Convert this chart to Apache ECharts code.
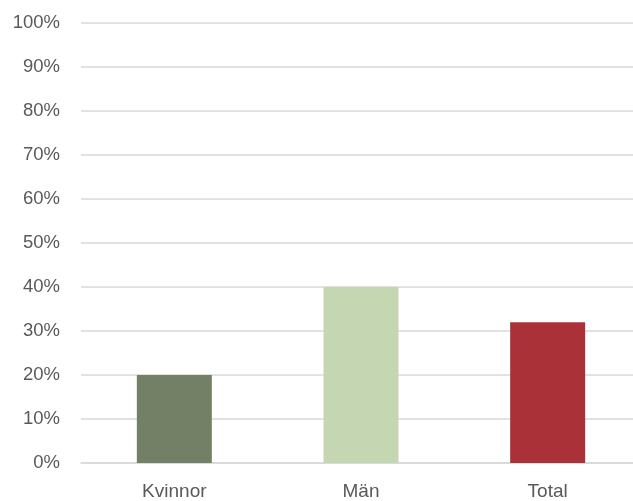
<!DOCTYPE html>
<html>
<head>
<meta charset="utf-8">
<script src="https://cdn.jsdelivr.net/npm/echarts@6/dist/echarts.min.js"></script>
<style>
  html, body { margin: 0; padding: 0; background: #fff; overflow: hidden; }
  /* the plot area runs slightly past the right edge of the window */
  #chart { width: 641px; height: 501px; }
</style>
</head>
<body>
<div id="chart"></div>
<script>
// Share per group, in percent
const categories = ['Kvinnor', 'Män', 'Total'];
const values = [20, 40, 32];
const barColors = ['#748066', '#c5d6b2', '#ab3139'];

const chart = echarts.init(document.getElementById('chart'), null, { renderer: 'canvas' });
const font = "'Liberation Sans', Arial, sans-serif";

chart.setOption({
  animation: false,
  backgroundColor: '#ffffff',
  grid: { left: 81, right: 0, top: 23, height: 440, containLabel: false },
  xAxis: {
    type: 'category',
    data: categories,
    axisLine: { lineStyle: { color: '#d9d9d9', width: 1.5 } },
    axisTick: { show: false },
    axisLabel: { color: '#595959', fontSize: 19, fontFamily: font, margin: 19 }
  },
  yAxis: {
    type: 'value',
    min: 0,
    max: 100,
    interval: 10,
    axisLine: { show: false },
    axisTick: { show: false },
    splitLine: { lineStyle: { color: '#d9d9d9', width: 1.5 } },
    axisLabel: { color: '#595959', fontSize: 18.5, fontFamily: font, margin: 21, formatter: '{value}%' }
  },
  series: [{
    type: 'bar',
    barWidth: 75,
    data: values.map((v, i) => ({ value: v, itemStyle: { color: barColors[i] } }))
  }]
});
</script>
</body>
</html>
